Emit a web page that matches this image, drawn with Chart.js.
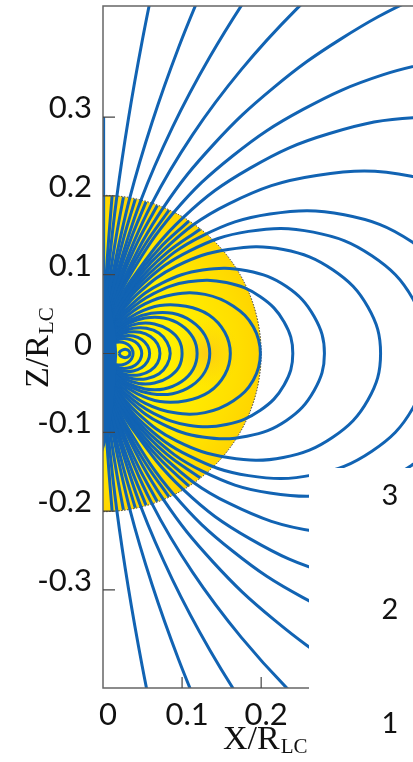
<!DOCTYPE html>
<html>
<head>
<meta charset="utf-8">
<script src="https://cdn.jsdelivr.net/npm/chart.js@4.4.0/dist/chart.umd.min.js"></script>
<style>
  html, body { margin: 0; padding: 0; background: #fff; }
  #wrap { width: 413px; height: 762px; position: relative; }
</style>
</head>
<body>
<div id="wrap"><canvas id="fieldChart"></canvas></div>
<script>
// axes
const xTicks = [0, 0.1, 0.2, 0.3];
const zTicks = [-0.3, -0.2, -0.1, 0, 0.1, 0.2, 0.3];
const xRange = [0, 0.392];
const zRange = [-0.4245, 0.441];
const starRadius = 0.2;
const hotSpot = [0.13, 0];
const sideLabels = ['3', '2', '1'];

// field lines, upper half only [x, z]; lower half is the mirror image
// closed loops, from the equator back to the centre
const loopsOuter = [
  [[0.600,0],[0.573,0.101],[0.498,0.181],[0.390,0.225],[0.270,0.226],[0.159,0.190],[0.075,0.130],[0.024,0.066],[0.0054,0.0254],[0,0]],
  [[0.470,0],[0.449,0.079],[0.390,0.142],[0.305,0.176],[0.211,0.177],[0.125,0.149],[0.059,0.102],[0.019,0.052],[0.0042,0.0199],[0,0]],
  [[0.410,0],[0.392,0.069],[0.340,0.124],[0.266,0.154],[0.184,0.155],[0.109,0.130],[0.051,0.089],[0.016,0.045],[0.0037,0.0173],[0,0]],
  [[0.351,0],[0.335,0.059],[0.291,0.106],[0.228,0.132],[0.158,0.132],[0.093,0.111],[0.044,0.076],[0.014,0.039],[0.0032,0.0148],[0,0]],
  [[0.280,0],[0.267,0.047],[0.232,0.085],[0.182,0.105],[0.126,0.106],[0.074,0.089],[0.035,0.061],[0.011,0.031],[0.0025,0.0118],[0,0]],
  [[0.240,0],[0.229,0.040],[0.199,0.072],[0.156,0.090],[0.108,0.091],[0.064,0.076],[0.030,0.052],[0.0096,0.026],[0.0022,0.0102],[0,0]],
  [[0.199,0],[0.190,0.034],[0.165,0.060],[0.129,0.075],[0.089,0.075],[0.053,0.063],[0.025,0.043],[0.008,0.022],[0.0018,0.0084],[0,0]]
];
const loopsInner = [
  [[0.161,0],[0.154,0.027],[0.134,0.049],[0.105,0.060],[0.072,0.061],[0.043,0.051],[0.020,0.035],[0.0064,0.0177],[0,0]],
  [[0.135,0],[0.129,0.023],[0.112,0.041],[0.088,0.051],[0.061,0.051],[0.036,0.043],[0.017,0.029],[0.0054,0.0148],[0,0]],
  [[0.119,0],[0.114,0.020],[0.099,0.036],[0.077,0.045],[0.053,0.045],[0.032,0.038],[0.015,0.026],[0.0048,0.0131],[0,0]],
  [[0.100,0],[0.096,0.017],[0.083,0.030],[0.065,0.0375],[0.045,0.038],[0.027,0.032],[0.0125,0.022],[0.004,0.011],[0,0]],
  [[0.085,0],[0.081,0.0143],[0.071,0.0257],[0.055,0.032],[0.038,0.032],[0.0226,0.0269],[0.0106,0.0184],[0.0034,0.0093],[0,0]],
  [[0.072,0],[0.069,0.0121],[0.060,0.0217],[0.047,0.027],[0.032,0.0272],[0.019,0.0228],[0.009,0.0156],[0.0029,0.0079],[0,0]],
  [[0.059,0],[0.0564,0.0099],[0.049,0.0178],[0.0383,0.0221],[0.0265,0.0223],[0.0157,0.0187],[0.0074,0.0128],[0,0]],
  [[0.049,0],[0.0468,0.0083],[0.0407,0.0148],[0.0318,0.0184],[0.022,0.0185],[0.013,0.0155],[0.0061,0.0106],[0,0]],
  [[0.038,0],[0.0363,0.0064],[0.0315,0.0115],[0.0247,0.0143],[0.0171,0.0143],[0.0101,0.012],[0,0]],
  [[0.034,0],[0.0325,0.0035],[0.029,0.0052],[0.025,0.0046],[0.0215,0.0024],[0.0205,0]]
];
// open lines leaving the frame
const openLines = [
  [[0,0],[0.0127,0.0484],[0.0358,0.0934],[0.1013,0.1725],[0.1861,0.2353],[0.2864,0.2792],[0.4003,0.2996],[0.526,0.288]],
  [[0,0],[0.0112,0.0487],[0.0316,0.0949],[0.0894,0.1789],[0.1643,0.251],[0.253,0.3098],[0.3536,0.3536],[0.4648,0.3795]],
  [[0,0],[0.0095,0.0491],[0.0269,0.0963],[0.0761,0.1849],[0.1399,0.2654],[0.2154,0.3371],[0.301,0.3993],[0.3956,0.4511],[0.4985,0.4914]],
  [[0,0],[0.0077,0.0494],[0.0218,0.0976],[0.0617,0.1902],[0.1134,0.2778],[0.1746,0.3599],[0.244,0.4364],[0.3207,0.5071]],
  [[0,0],[0.006,0.0496],[0.0169,0.0986],[0.0478,0.1942],[0.0878,0.2869],[0.1352,0.3765],[0.189,0.4629],[0.248,0.546]],
  [[0,0],[0.0042,0.0498],[0.012,0.0993],[0.0338,0.1971],[0.0621,0.2935],[0.0956,0.3884],[0.1336,0.4818]],
  [[0,0],[0.0022,0.05],[0.0062,0.0998],[0.0175,0.1992],[0.0322,0.2983],[0.0496,0.3969],[0.0693,0.4952]]
];
// extra lines drawn only inside the star
const starLines = [
  [[0,0],[0.0014,0.05],[0.0041,0.0999],[0.0075,0.1498],[0.0115,0.1997]],
  [[0,0],[0.0032,0.0499],[0.0091,0.0996],[0.0168,0.1491],[0.0258,0.1983]],
  [[0,0],[0.0051,0.0497],[0.0144,0.099],[0.0265,0.1476],[0.0408,0.1958]],
  [[0,0],[0.0068,0.0495],[0.0192,0.0981],[0.0354,0.1458],[0.0544,0.1924]],
  [[0,0],[0.0086,0.0493],[0.0243,0.097],[0.0446,0.1432],[0.0686,0.1879]],
  [[0,0],[0.0104,0.0489],[0.0295,0.0956],[0.0542,0.1399],[0.0834,0.1818]],
  [[0,0],[0.0136,0.0481],[0.0384,0.0924],[0.0705,0.1324],[0.1085,0.168]],
  [[0,0],[0.0154,0.0476],[0.0434,0.0901],[0.0798,0.127],[0.1229,0.1578]]
];
// dense bundle where all lines meet the axis
const coreBlob = [[0,0.105],[0.006,0.082],[0.011,0.055],[0.016,0.025],[0.018,0],[0.016,-0.03],[0.013,-0.065],[0.008,-0.098],[0,-0.125]];
const axisLine = [[0.0008,0.3],[0.0008,0.05]];

const lineBlue = '#1163b3';

const toPts = arr => arr.map(p => ({ x: p[0], y: p[1] }));
const mirror = arr => arr.map(p => [p[0], -p[1]]);
const fullLoop = half => mirror(half.slice(1).reverse()).concat(half);

const datasets = [];
function addLine(arr) {
  datasets.push({
    data: toPts(arr),
    showLine: true,
    borderColor: lineBlue,
    borderWidth: 3,
    pointRadius: 0,
    tension: 0.4,
    fill: false,
    clip: 0
  });
}
loopsOuter.concat(loopsInner).forEach(h => addLine(fullLoop(h)));
openLines.concat(starLines).forEach(h => { addLine(h); addLine(mirror(h)); });
addLine(axisLine);

const starPlugin = {
  id: 'star',
  beforeDatasetsDraw(chart) {
    const { ctx, chartArea: a, scales: { x, y } } = chart;
    const cx = x.getPixelForValue(0), cy = y.getPixelForValue(0);
    const r = x.getPixelForValue(starRadius) - cx;
    ctx.save();
    ctx.beginPath(); ctx.rect(a.left, a.top, a.width, a.height); ctx.clip();
    const disk = () => { ctx.beginPath(); ctx.moveTo(cx, cy - r); ctx.arc(cx, cy, r, -Math.PI / 2, Math.PI / 2); ctx.closePath(); };
    const g = ctx.createRadialGradient(cx, cy, 0, cx, cy, r);
    g.addColorStop(0, '#fff700');
    g.addColorStop(0.55, '#ffee00');
    g.addColorStop(0.85, '#ffdf00');
    g.addColorStop(1, '#ffd500');
    ctx.fillStyle = g; disk(); ctx.fill();
    const hx = x.getPixelForValue(hotSpot[0]), hy = y.getPixelForValue(hotSpot[1]);
    const h = ctx.createRadialGradient(hx, hy, 0, hx, hy, r * 0.22);
    h.addColorStop(0, 'rgba(248,170,40,0.45)');
    h.addColorStop(1, 'rgba(250,200,20,0)');
    ctx.fillStyle = h; disk(); ctx.fill();
    ctx.setLineDash([1.5, 1.5]);
    ctx.strokeStyle = '#333'; ctx.lineWidth = 1;
    ctx.beginPath(); ctx.arc(cx, cy, r, -Math.PI / 2, Math.PI / 2); ctx.stroke();
    ctx.restore();
  },
  afterDatasetsDraw(chart) {
    const { ctx, chartArea: a, scales: { x, y } } = chart;
    ctx.save();
    ctx.beginPath(); ctx.rect(a.left, a.top, a.width, a.height); ctx.clip();
    ctx.fillStyle = lineBlue;
    ctx.beginPath();
    coreBlob.forEach((p, i) => {
      const px = x.getPixelForValue(p[0]), py = y.getPixelForValue(p[1]);
      if (i === 0) ctx.moveTo(px, py); else ctx.lineTo(px, py);
    });
    ctx.closePath(); ctx.fill();
    ctx.restore();
  },
  afterDraw(chart) {
    const { ctx, chartArea: a, scales: { x, y } } = chart;
    ctx.save();
    // frame
    ctx.strokeStyle = '#666'; ctx.lineWidth = 1.5;
    ctx.beginPath();
    ctx.moveTo(a.right, a.top); ctx.lineTo(a.left, a.top); ctx.lineTo(a.left, a.bottom); ctx.lineTo(a.right, a.bottom);
    ctx.stroke();
    // inward ticks
    ctx.strokeStyle = '#444'; ctx.lineWidth = 1.2;
    ctx.beginPath();
    zTicks.forEach(v => { const py = y.getPixelForValue(v); ctx.moveTo(a.left, py); ctx.lineTo(a.left + 12, py); });
    xTicks.slice(1).forEach(v => { const px = x.getPixelForValue(v); ctx.moveTo(px, a.bottom); ctx.lineTo(px, a.bottom - 11); });
    ctx.stroke();
    // axis titles
    ctx.fillStyle = '#111';
    ctx.textBaseline = 'alphabetic';
    ctx.save();
    ctx.translate(48, 388);
    ctx.rotate(-Math.PI / 2);
    ctx.font = '34px "Liberation Serif", "DejaVu Serif", serif';
    ctx.fillText('Z/R', 0, 0);
    const wz = ctx.measureText('Z/R').width;
    ctx.font = '21px "Liberation Serif", "DejaVu Serif", serif';
    ctx.fillText('LC', wz + 1, 5);
    ctx.restore();
    ctx.font = '34px "Liberation Serif", "DejaVu Serif", serif';
    ctx.fillText('X/R', 223, 749);
    const wx = ctx.measureText('X/R').width;
    ctx.font = '21px "Liberation Serif", "DejaVu Serif", serif';
    ctx.fillText('LC', 223 + wx + 1, 753);
    // neighbouring panel
    ctx.fillStyle = '#fff';
    ctx.fillRect(309, 468, 413 - 309, 762 - 468);
    ctx.fillStyle = '#111';
    ctx.font = '29px Lato, "Liberation Sans", sans-serif';
    ctx.textAlign = 'center';
    ctx.textBaseline = 'middle';
    sideLabels.forEach((t, i) => ctx.fillText(t, 390, 496 + i * 114));
    ctx.restore();
  }
};

const tickFont = { family: 'Lato, "Liberation Sans", sans-serif', size: 31, weight: 400 };

new Chart(document.getElementById('fieldChart'), {
  type: 'scatter',
  data: { datasets: datasets },
  options: {
    responsive: true,
    maintainAspectRatio: false,
    animation: false,
    layout: { padding: { top: 6, left: 0, right: 0, bottom: 0 } },
    plugins: { legend: { display: false }, tooltip: { enabled: false } },
    scales: {
      x: {
        type: 'linear', min: xRange[0], max: xRange[1],
        afterBuildTicks: s => { s.ticks = xTicks.map(v => ({ value: v })); },
        afterFit: s => { s.height = 74; s.paddingLeft = 0; s.paddingRight = 0; },
        grid: { display: false, drawTicks: false },
        border: { display: false },
        ticks: { font: tickFont, color: '#111', padding: 8, labelOffset: 5, maxRotation: 0, callback: v => String(v) }
      },
      y: {
        type: 'linear', min: zRange[0], max: zRange[1],
        afterBuildTicks: s => { s.ticks = zTicks.map(v => ({ value: v })); },
        afterFit: s => { s.width = 103; s.paddingTop = 0; s.paddingBottom = 0; },
        grid: { display: false, drawTicks: false },
        border: { display: false },
        ticks: { font: tickFont, color: '#111', padding: 11, labelOffset: -9, callback: v => String(v) }
      }
    }
  },
  plugins: [starPlugin]
});
</script>
</body>
</html>
